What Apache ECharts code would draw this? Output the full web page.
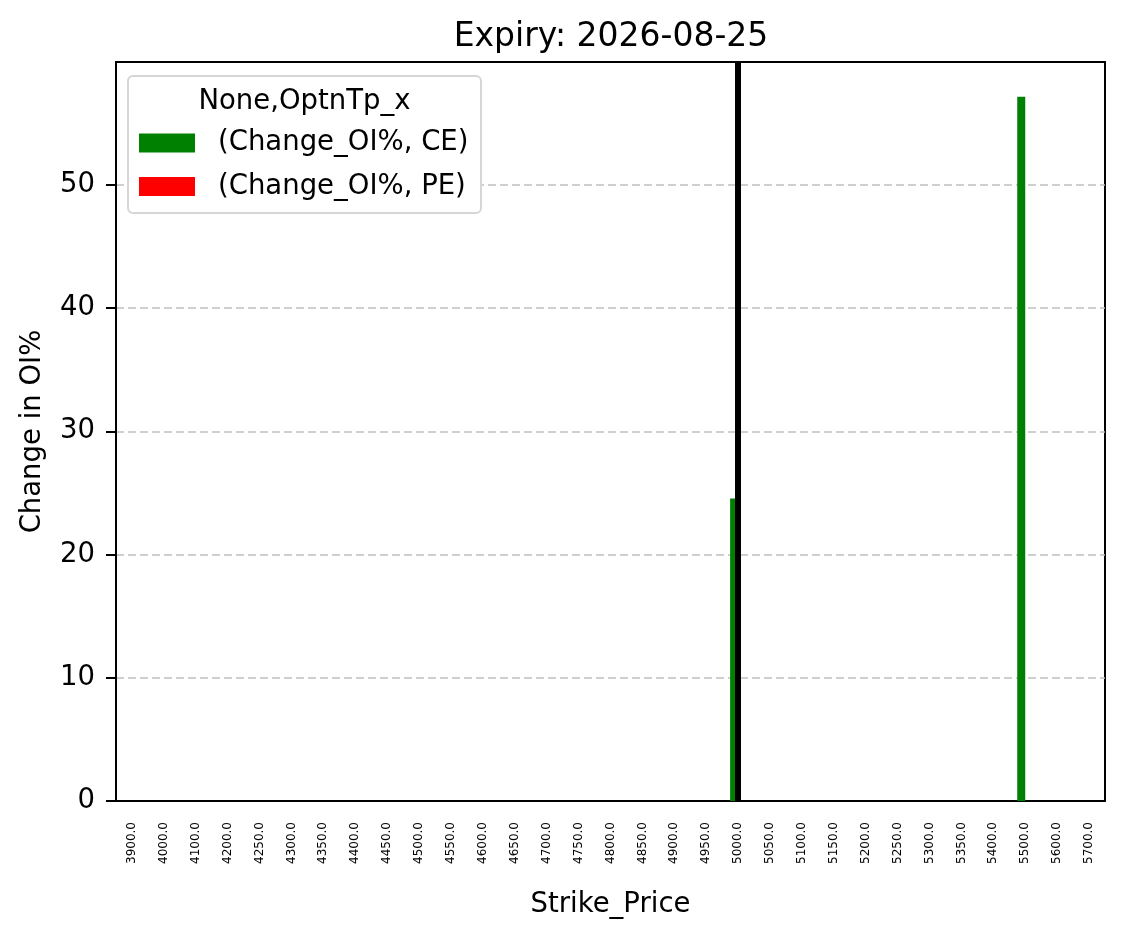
<!DOCTYPE html>
<html>
<head>
<meta charset="utf-8">
<script src="https://cdn.jsdelivr.net/npm/echarts@6/dist/echarts.min.js"></script>
<style>
  html, body { margin: 0; padding: 0; background: #fff; }
  #chart { width: 1126px; height: 939px; }
</style>
</head>
<body>
<div id="chart"></div>
<script>
// strike prices on the x axis
var strikes = ['3900.0', '4000.0', '4100.0', '4200.0', '4250.0', '4300.0', '4350.0', '4400.0',
    '4450.0', '4500.0', '4550.0', '4600.0', '4650.0', '4700.0', '4750.0', '4800.0', '4850.0',
    '4900.0', '4950.0', '5000.0', '5050.0', '5100.0', '5150.0', '5200.0', '5250.0', '5300.0',
    '5350.0', '5400.0', '5500.0', '5600.0', '5700.0'];

// Change_OI% per strike (only two non-zero CE values)
var ceChange = [0, 0, 0, 0, 0, 0, 0, 0, 0, 0, 0, 0, 0, 0, 0, 0, 0, 0, 0,
    24.55, 0, 0, 0, 0, 0, 0, 0, 0, 57.15, 0, 0];
var peChange = [0, 0, 0, 0, 0, 0, 0, 0, 0, 0, 0, 0, 0, 0, 0, 0, 0, 0, 0,
    0, 0, 0, 0, 0, 0, 0, 0, 0, 0, 0, 0];

var spotStrike = '5000.0';
var yTicks = [0, 10, 20, 30, 40, 50];

var font = 'DejaVu Sans';
var chart = echarts.init(document.getElementById('chart'));

var option = {
    animation: false,
    backgroundColor: '#fff',
    textStyle: { fontFamily: font },
    title: {
        text: 'Expiry: 2026-08-25',
        left: 606,
        textAlign: 'center',
        top: 16,
        textStyle: { fontFamily: font, fontSize: 33, fontWeight: 'normal', color: '#000' }
    },
    grid: {
        left: 116,
        right: 21,
        top: 62,
        bottom: 138,
        show: true,
        borderColor: '#000',
        borderWidth: 2,
        containLabel: false
    },
    legend: {
        orient: 'vertical',
        left: 139,
        top: 129,
        padding: 0,
        itemWidth: 56,
        itemHeight: 19,
        itemGap: 15.5,
        icon: 'rect',
        z: 6,
        textStyle: { fontFamily: font, fontSize: 27.5, lineHeight: 28, color: '#000', padding: [0, 0, 0, 18] },
        data: ['(Change_OI%, CE)', '(Change_OI%, PE)']
    },
    graphic: [
        {
            type: 'rect',
            z: 5,
            shape: { x: 128, y: 76, width: 353, height: 137, r: 5 },
            style: { fill: '#fff', stroke: '#d6d6d6', lineWidth: 2 }
        },
        {
            type: 'text',
            z: 6,
            x: 304.5,
            y: 102,
            style: {
                text: 'None,OptnTp_x', font: '27.5px "DejaVu Sans"', fill: '#000',
                align: 'center', verticalAlign: 'middle'
            }
        }
    ],
    xAxis: {
        type: 'category',
        data: strikes,
        name: 'Strike_Price',
        nameLocation: 'middle',
        nameGap: 90,
        nameTextStyle: { fontFamily: font, fontSize: 27.5, color: '#000' },
        axisLine: { lineStyle: { color: '#000', width: 2 } },
        axisTick: { alignWithLabel: true, length: 10, lineStyle: { color: '#000', width: 2 } },
        axisLabel: { rotate: 90, fontSize: 12, color: '#000', margin: 21, fontFamily: font },
        splitLine: { show: false }
    },
    yAxis: {
        type: 'value',
        min: 0,
        max: 59.96,
        interval: 10,
        name: 'Change in OI%',
        nameLocation: 'middle',
        nameGap: 69,
        nameTextStyle: { fontFamily: font, fontSize: 27.5, color: '#000' },
        axisLine: { show: true, lineStyle: { color: '#000', width: 2 } },
        axisTick: { show: true, length: 10, customValues: yTicks, lineStyle: { color: '#000', width: 2 } },
        axisLabel: {
            fontSize: 27.5, color: '#000', margin: 21, fontFamily: font,
            customValues: yTicks
        },
        splitLine: { show: true, lineStyle: { color: '#c0c0c0', type: [8, 4], width: 1.5 } }
    },
    series: [
        {
            name: '(Change_OI%, CE)',
            type: 'bar',
            data: ceChange,
            itemStyle: { color: '#008000' },
            barWidth: 8,
            barGap: '0%'
        },
        {
            name: '(Change_OI%, PE)',
            type: 'bar',
            data: peChange,
            itemStyle: { color: '#ff0000' },
            barWidth: 8,
            barGap: '0%'
        },
        {
            // vertical marker at the spot strike
            name: 'spot',
            type: 'line',
            data: [],
            z: 3,
            markLine: {
                silent: true,
                symbol: 'none',
                label: { show: false },
                lineStyle: { color: '#000', type: 'solid', width: 6 },
                data: [{ xAxis: spotStrike }]
            }
        }
    ]
};

chart.setOption(option);
</script>
</body>
</html>
